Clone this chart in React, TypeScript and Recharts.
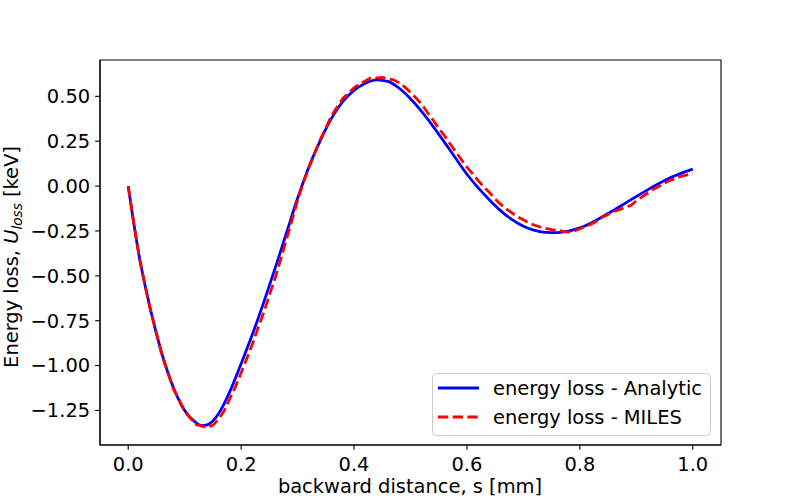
import { LineChart, Line, XAxis, YAxis, Legend, ReferenceArea } from "recharts"

// analytic curve, sampled every 0.02 mm (plus the minimum)
const analyticS = [
  0, 0.02, 0.04, 0.06, 0.08, 0.1, 0.12, 0.13, 0.14, 0.16, 0.18, 0.2, 0.22, 0.24, 0.26, 0.28, 0.3,
  0.32, 0.34, 0.36, 0.38, 0.4, 0.42, 0.44, 0.46, 0.48, 0.5, 0.52, 0.54, 0.56, 0.58, 0.6, 0.62,
  0.64, 0.66, 0.68, 0.7, 0.72, 0.74, 0.76, 0.78, 0.8, 0.82, 0.84, 0.86, 0.88, 0.9, 0.92, 0.94,
  0.96, 0.98, 1.0,
]
const analyticU = [
  0, -0.401, -0.695, -0.937, -1.122, -1.25, -1.318, -1.335, -1.33, -1.268, -1.145, -0.99, -0.826,
  -0.648, -0.46, -0.264, -0.068, 0.107, 0.252, 0.377, 0.47, 0.533, 0.573, 0.592, 0.583, 0.545,
  0.487, 0.415, 0.333, 0.245, 0.155, 0.066, -0.01, -0.077, -0.138, -0.187, -0.224, -0.247, -0.258,
  -0.259, -0.251, -0.233, -0.205, -0.171, -0.134, -0.096, -0.058, -0.021, 0.014, 0.046, 0.072, 0.095,
]

// MILES result, every 0.01 mm from 0 to 1
const milesU = [
  0.0, -0.212, -0.405, -0.556, -0.7, -0.818, -0.945, -1.036, -1.13, -1.19, -1.256, -1.292, -1.328,
  -1.338, -1.345, -1.332, -1.3, -1.252, -1.185, -1.118, -1.04, -0.962, -0.88, -0.79, -0.705,
  -0.608, -0.515, -0.41, -0.3, -0.192, -0.08, 0.018, 0.102, 0.18, 0.258, 0.322, 0.392, 0.44,
  0.488, 0.518, 0.548, 0.57, 0.586, 0.604, 0.603, 0.606, 0.598, 0.592, 0.575, 0.552, 0.522, 0.49,
  0.456, 0.41, 0.368, 0.322, 0.282, 0.236, 0.192, 0.148, 0.105, 0.068, 0.03, -0.005, -0.036,
  -0.072, -0.102, -0.128, -0.15, -0.172, -0.188, -0.206, -0.218, -0.228, -0.236, -0.243, -0.245,
  -0.252, -0.256, -0.25, -0.238, -0.224, -0.212, -0.195, -0.172, -0.158, -0.142, -0.132, -0.118,
  -0.108, -0.082, -0.06, -0.04, -0.018, -0.002, 0.016, 0.032, 0.042, 0.055, 0.062, 0.07,
]

const xTicks = [0, 0.2, 0.4, 0.6, 0.8, 1.0]
const yTicks = [-1.25, -1.0, -0.75, -0.5, -0.25, 0, 0.25, 0.5]

const analyticData = analyticS.map((s, i) => ({ s, u: analyticU[i] }))
const milesData = milesU.map((u, i) => ({ s: i / 100, u }))

const FONT = "'DejaVu Sans', sans-serif"
const FS = 19.44
const X_DOMAIN: [number, number] = [-0.05, 1.05]
const Y_DOMAIN: [number, number] = [-1.4425, 0.7025]

const fmtY = (v: number) => v.toFixed(2).replace("-", "\u2212")

const renderLegend = () => (
  <svg width={280} height={64} style={{ display: "block" }}>
    <rect x={0.5} y={0.5} width={278} height={62} rx={4} fill="#fff" fillOpacity={0.8} stroke="#cccccc" />
    <line x1={6} x2={47} y1={15} y2={15} stroke="#0000ff" strokeWidth={2.78} />
    <text x={61} y={22} fontFamily={FONT} fontSize={FS} fill="#000">
      energy loss - Analytic
    </text>
    <line x1={6} x2={47} y1={44} y2={44} stroke="#ff0000" strokeWidth={2.78} strokeDasharray="10.3 4.4" />
    <text x={61} y={50.5} fontFamily={FONT} fontSize={FS} fill="#000">
      energy loss - MILES
    </text>
  </svg>
)

const YLabel = () => (
  <text
    x={18}
    y={257}
    transform="rotate(-90, 18, 257)"
    textAnchor="middle"
    fontFamily={FONT}
    fontSize={FS}
    fill="#000"
  >
    Energy loss, <tspan fontStyle="italic">U</tspan>
    <tspan fontStyle="italic" fontSize={FS * 0.7} dy={4}>loss</tspan>
    <tspan dy={-4}> [keV]</tspan>
  </text>
)

const XLabel = () => (
  <text x={410} y={493} textAnchor="middle" fontFamily={FONT} fontSize={FS} fill="#000">
    backward distance, s [mm]
  </text>
)

export default function App() {
  return (
    <div style={{ position: "absolute", left: 0, top: 0, width: 800, height: 500, background: "#fff" }}>
      <LineChart width={800} height={500} margin={{ top: 60, right: 79, bottom: 0, left: 0 }}>
        <XAxis
          dataKey="s"
          type="number"
          domain={X_DOMAIN}
          ticks={xTicks}
          allowDataOverflow
          tickFormatter={(v: number) => v.toFixed(1)}
          height={55}
          tickSize={4.86}
          tickMargin={7}
          tick={{ fill: "#000", fontSize: FS, fontFamily: FONT }}
          tickLine={{ stroke: "#000", strokeWidth: 1.1 }}
          axisLine={{ stroke: "#000", strokeWidth: 1.1 }}
          label={{ content: () => <XLabel /> }}
        />
        <YAxis
          type="number"
          domain={Y_DOMAIN}
          ticks={yTicks}
          allowDataOverflow
          tickFormatter={fmtY}
          width={100}
          tickSize={4.86}
          tickMargin={5}
          tick={{ fill: "#000", fontSize: FS, fontFamily: FONT }}
          tickLine={{ stroke: "#000", strokeWidth: 1.1 }}
          axisLine={{ stroke: "#000", strokeWidth: 1.1 }}
          label={{ content: () => <YLabel /> }}
        />
        <ReferenceArea
          x1={X_DOMAIN[0]}
          x2={X_DOMAIN[1]}
          y1={Y_DOMAIN[0]}
          y2={Y_DOMAIN[1]}
          ifOverflow="visible"
          fill="none"
          stroke="#000"
          strokeWidth={1.1}
          fillOpacity={0}
        />
        <Line
          data={analyticData}
          dataKey="u"
          type="monotone"
          stroke="#0000ff"
          strokeWidth={2.78}
          dot={false}
          isAnimationActive={false}
        />
        <Line
          data={milesData}
          dataKey="u"
          type="linear"
          stroke="#ff0000"
          strokeWidth={2.78}
          strokeDasharray="10.3 4.4"
          dot={false}
          isAnimationActive={false}
        />
        <Legend
          layout="vertical"
          align="center"
          verticalAlign="middle"
          content={renderLegend}
          wrapperStyle={{ left: 432, top: 373, width: 280, height: 64 }}
        />
      </LineChart>
    </div>
  )
}
